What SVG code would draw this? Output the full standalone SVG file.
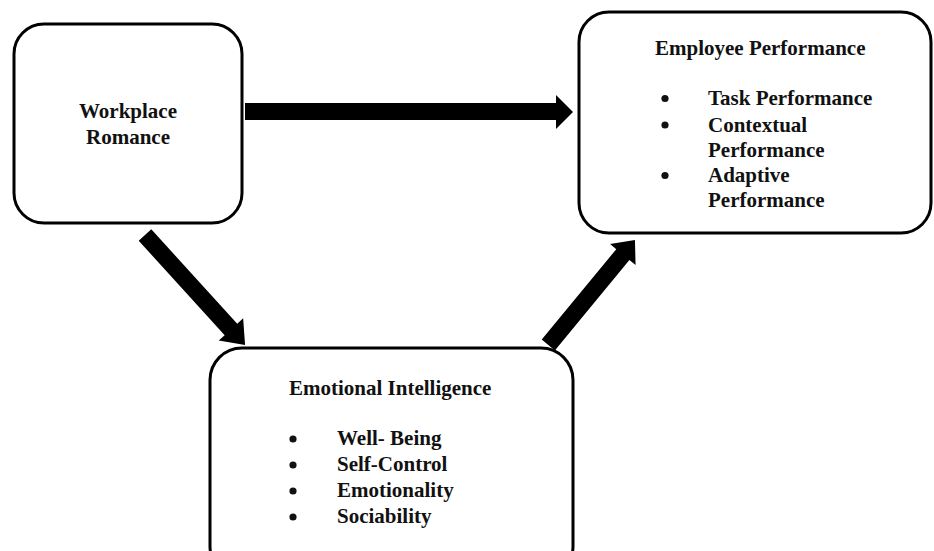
<svg xmlns="http://www.w3.org/2000/svg" width="934" height="551" viewBox="0 0 934 551">
  <defs>
    <style>
      .box { fill: #ffffff; stroke: #000000; stroke-width: 3; }
      .arrow { fill: #000000; stroke: none; }
      .dot { fill: #111111; }
      text { font-family: "Liberation Serif", "Times New Roman", serif; font-weight: bold; font-size: 21px; fill: #111111; }
      .mid { text-anchor: middle; }
    </style>
  </defs>
  <rect width="934" height="551" fill="#ffffff"/>

  <!-- block arrows between the constructs -->
  <g id="connectors">
    <!-- Workplace Romance -> Employee Performance -->
    <polygon class="arrow" points="245,103 556,103 556,95 573,112 556,129 556,120 245,120"/>
    <!-- Workplace Romance -> Emotional Intelligence (length 148.7, 47.7deg) -->
    <polygon class="arrow" transform="translate(145,235) rotate(47.7)" points="0,-8.5 127.7,-8.5 127.7,-16.5 148.7,0 127.7,16.5 127.7,8.5 0,8.5"/>
    <!-- Emotional Intelligence -> Employee Performance (length 136.2, -50.5deg) -->
    <polygon class="arrow" transform="translate(548.3,345) rotate(-50.5)" points="0,-8.5 117.2,-8.5 117.2,-16.5 136.2,0 117.2,16.5 117.2,8.5 0,8.5"/>
  </g>

  <g id="workplace-romance">
    <rect class="box" x="14" y="24" width="228" height="199" rx="30" ry="30"/>
    <text class="mid" x="128" y="118">Workplace</text>
    <text class="mid" x="128" y="144">Romance</text>
  </g>

  <g id="employee-performance">
    <rect class="box" x="579" y="12" width="352" height="221" rx="30" ry="30"/>
    <text x="655" y="55">Employee Performance</text>
    <!-- list markers -->
    <circle class="dot" cx="665" cy="98.5" r="3.6"/>
    <circle class="dot" cx="665" cy="125" r="3.6"/>
    <circle class="dot" cx="665" cy="175.5" r="3.6"/>
    <text x="708" y="105">Task Performance</text>
    <text x="708" y="131.5">Contextual</text>
    <text x="708" y="157">Performance</text>
    <text x="708" y="182">Adaptive</text>
    <text x="708" y="207">Performance</text>
  </g>

  <g id="emotional-intelligence">
    <rect class="box" x="210" y="348" width="363" height="230" rx="32" ry="32"/>
    <text x="289" y="395">Emotional Intelligence</text>
    <!-- list markers -->
    <circle class="dot" cx="293" cy="439" r="3.6"/>
    <circle class="dot" cx="293" cy="465" r="3.6"/>
    <circle class="dot" cx="293" cy="491" r="3.6"/>
    <circle class="dot" cx="293" cy="517" r="3.6"/>
    <text x="337" y="445">Well- Being</text>
    <text x="337" y="471">Self-Control</text>
    <text x="337" y="497">Emotionality</text>
    <text x="337" y="523">Sociability</text>
  </g>
</svg>
